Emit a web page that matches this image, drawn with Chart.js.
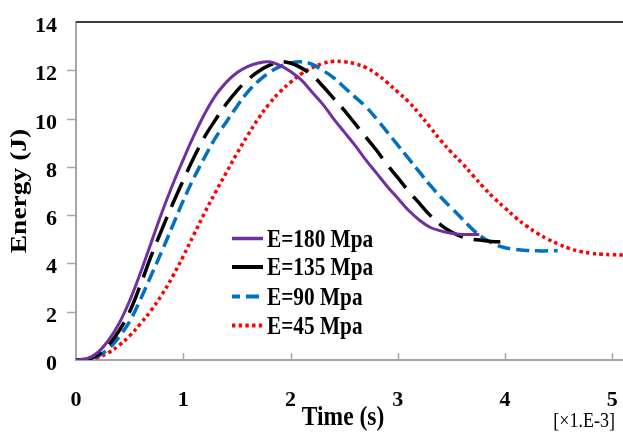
<!DOCTYPE html>
<html>
<head>
<meta charset="utf-8">
<script src="https://cdn.jsdelivr.net/npm/chart.js@4/dist/chart.umd.min.js"></script>
<style>
  html, body { margin: 0; padding: 0; background: #fff; }
  #wrap { width: 623px; height: 432px; }
</style>
</head>
<body>
<div id="wrap"><canvas id="c" width="623" height="432"></canvas></div>
<script>
// Energy vs. time for four elastic moduli (time in units of 1e-3 s)
const seriesLabels = ['E=180 Mpa', 'E=135 Mpa', 'E=90 Mpa', 'E=45 Mpa'];

const time180 = [0,0.1,0.2,0.3,0.4,0.5,0.6,0.7,0.8,0.9,1.0,1.1,1.2,1.3,1.4,1.5,1.6,1.7,1.8,1.9,
                 2.0,2.1,2.2,2.3,2.4,2.5,2.6,2.7,2.8,2.9,3.0,3.1,3.2,3.3,3.4,3.5,3.6,3.76];
const energy180 = [0,0.05,0.3,0.8,1.5,2.45,3.6,4.85,6.1,7.25,8.3,9.3,10.2,10.95,11.5,11.9,12.15,12.3,12.35,12.2,
                   11.95,11.6,11.1,10.6,10.0,9.45,8.9,8.3,7.75,7.2,6.7,6.2,5.8,5.5,5.35,5.25,5.2,5.2];

const time135 = [0,0.1,0.2,0.3,0.4,0.5,0.6,0.7,0.8,0.9,1.0,1.1,1.2,1.3,1.4,1.5,1.6,1.7,1.8,1.9,
                 2.0,2.1,2.2,2.3,2.4,2.5,2.6,2.7,2.8,2.9,3.0,3.1,3.2,3.3,3.4,3.5,3.6,3.7,3.8,3.9,4.0];
const energy135 = [0,0.03,0.2,0.6,1.2,2.0,3.1,4.3,5.4,6.45,7.45,8.4,9.25,9.95,10.6,11.15,11.6,11.95,12.2,12.35,
                   12.3,12.1,11.8,11.35,10.85,10.35,9.8,9.25,8.7,8.1,7.55,7.0,6.5,6.0,5.6,5.3,5.1,5.0,4.95,4.9,4.9];

const time90 = [0,0.1,0.2,0.3,0.4,0.5,0.6,0.7,0.8,0.9,1.0,1.1,1.2,1.3,1.4,1.5,1.6,1.7,1.8,1.9,
                2.0,2.1,2.2,2.3,2.4,2.5,2.6,2.7,2.8,2.9,3.0,3.1,3.2,3.3,3.4,3.5,3.6,3.7,3.8,3.9,
                4.0,4.1,4.2,4.3,4.4,4.49];
const energy90 = [0,0.02,0.15,0.45,0.95,1.6,2.5,3.5,4.5,5.55,6.6,7.55,8.4,9.2,9.85,10.5,11.1,11.55,11.9,12.15,
                  12.3,12.35,12.25,12.0,11.7,11.3,10.9,10.5,10.0,9.45,8.9,8.35,7.8,7.25,6.75,6.3,5.85,5.4,5.05,4.8,
                  4.65,4.58,4.54,4.52,4.52,4.52];

const time45 = [0,0.1,0.2,0.3,0.4,0.5,0.6,0.7,0.8,0.9,1.0,1.1,1.2,1.3,1.4,1.5,1.6,1.7,1.8,1.9,
                2.0,2.1,2.2,2.3,2.4,2.5,2.6,2.7,2.8,2.9,3.0,3.1,3.2,3.3,3.4,3.5,3.6,3.7,3.8,3.9,
                4.0,4.1,4.2,4.3,4.4,4.5,4.6,4.7,4.8,4.9,5.0,5.1];
const energy45 = [0,0.02,0.1,0.3,0.6,1.0,1.5,2.05,2.7,3.45,4.3,5.2,6.1,6.95,7.75,8.55,9.3,10.0,10.6,11.1,
                  11.5,11.85,12.1,12.28,12.37,12.35,12.27,12.12,11.85,11.5,11.1,10.7,10.2,9.65,9.1,8.6,8.15,7.65,7.15,6.7,
                  6.3,5.9,5.55,5.25,5.0,4.8,4.62,4.5,4.42,4.38,4.36,4.35];

const xTickValues = [0, 1, 2, 3, 4, 5];
const yTickValues = [0, 2, 4, 6, 8, 10, 12, 14];
const xTitle = 'Time (s)';
const xUnitNote = '[×1.E-3]';
const yTitle = 'Energy (J)';

const SERIF = '"Liberation Serif", "Times New Roman", serif';
const TEXT_STRETCH = 1.17;   // title and legend glyphs are a little taller than wide
const AXIS_GREY = '#A6A6A6';

function pairs(xs, ys) { return xs.map((x, i) => ({ x, y: ys[i] })); }

const styles = [
  { color: '#7030A0', width: 3,   dash: [],          legendOffset: 0 },
  { color: '#000000', width: 3.5, dash: [27, 11],    legendOffset: 0 },
  { color: '#0070C0', width: 3.5, dash: [13, 6],     legendOffset: 5 },
  { color: '#FF0000', width: 3.5, dash: [3.4, 3.3],  legendOffset: 0 }
];
const seriesData = [pairs(time180, energy180), pairs(time135, energy135),
                    pairs(time90, energy90), pairs(time45, energy45)];

function drawText(ctx, str, x, y, font, align, baseline, angle, stretch) {
  ctx.save();
  ctx.translate(x, y);
  ctx.scale(1, stretch === undefined ? TEXT_STRETCH : stretch);
  if (angle) ctx.rotate(angle);
  ctx.font = font;
  ctx.fillStyle = '#000';
  ctx.textAlign = align;
  ctx.textBaseline = baseline;
  ctx.fillText(str, 0, 0);
  ctx.restore();
}

const TICK_FONT = 'bold 22px ' + SERIF;

// Frame, tick marks, tick labels, titles and the in-plot legend
const decorations = {
  id: 'decorations',
  beforeDatasetsDraw(chart) {
    const { ctx, chartArea: a, scales: { x, y } } = chart;
    ctx.save();
    ctx.strokeStyle = '#3F3F3F';
    ctx.lineWidth = 2;
    ctx.beginPath(); ctx.moveTo(a.left, a.top); ctx.lineTo(a.right, a.top); ctx.stroke();
    ctx.strokeStyle = AXIS_GREY;
    ctx.lineWidth = 1.5;
    xTickValues.slice(1).forEach(v => {
      const px = Math.round(x.getPixelForValue(v)) + 0.5;
      ctx.beginPath(); ctx.moveTo(px, a.bottom); ctx.lineTo(px, a.bottom - 7); ctx.stroke();
    });
    yTickValues.slice(1, -1).forEach(v => {
      const py = Math.round(y.getPixelForValue(v)) + 0.5;
      ctx.beginPath(); ctx.moveTo(a.left, py); ctx.lineTo(a.left - 9, py); ctx.stroke();
    });
    ctx.restore();
    // tick labels
    xTickValues.forEach(v => {
      drawText(ctx, String(v), x.getPixelForValue(v), a.bottom + 46, TICK_FONT, 'center', 'alphabetic', 0, 1);
    });
    yTickValues.forEach(v => {
      drawText(ctx, String(v), a.left - 19, y.getPixelForValue(v) + 10, TICK_FONT, 'right', 'alphabetic', 0, 1);
    });
  },
  afterDraw(chart) {
    const { ctx } = chart;
    // axis titles
    drawText(ctx, yTitle, 20, 191, 'bold 23.5px ' + SERIF, 'center', 'middle', -Math.PI / 2);
    drawText(ctx, xTitle, 343, 425, 'bold 23.5px ' + SERIF, 'center', 'alphabetic');
    drawText(ctx, xUnitNote, 615, 427, '18px ' + SERIF, 'right', 'alphabetic');
    // legend
    const lx = 232, sampleLen = 31, textX = 267, rowY = [238.5, 267, 296.5, 325.5];
    chart.data.datasets.forEach((ds, i) => {
      const st = styles[i];
      ctx.save();
      ctx.strokeStyle = st.color;
      ctx.lineWidth = st.width + 0.5;
      ctx.setLineDash(i === 1 ? [] : st.dash);
      ctx.lineDashOffset = st.legendOffset;
      ctx.beginPath(); ctx.moveTo(lx, rowY[i]); ctx.lineTo(lx + sampleLen, rowY[i]); ctx.stroke();
      ctx.restore();
      drawText(ctx, ds.label, textX, rowY[i] + 8, 'bold 21.3px ' + SERIF, 'left', 'alphabetic');
    });
  }
};

new Chart(document.getElementById('c'), {
  type: 'line',
  data: {
    datasets: seriesData.map((d, i) => ({
      label: seriesLabels[i],
      data: d,
      borderColor: styles[i].color,
      backgroundColor: styles[i].color,
      borderWidth: styles[i].width,
      borderDash: styles[i].dash,
      borderCapStyle: 'butt',
      pointRadius: 0,
      fill: false,
      tension: 0.4
    }))
  },
  options: {
    responsive: false,
    animation: false,
    devicePixelRatio: 1,
    layout: { padding: { top: 22, right: 0, bottom: 0, left: 0 } },
    plugins: { legend: { display: false }, tooltip: { enabled: false } },
    scales: {
      x: {
        type: 'linear',
        min: 0,
        max: 5.1,
        afterFit: s => { s.height = 72; },
        afterBuildTicks: s => { s.ticks = xTickValues.map(v => ({ value: v })); },
        grid: { display: false },
        border: { display: true, color: AXIS_GREY, width: 2 },
        ticks: { display: false }
      },
      y: {
        min: 0,
        max: 14,
        afterFit: s => { s.width = 76; },
        afterBuildTicks: s => { s.ticks = yTickValues.map(v => ({ value: v })); },
        grid: { display: false },
        border: { display: true, color: AXIS_GREY, width: 2 },
        ticks: { display: false }
      }
    }
  },
  plugins: [decorations]
});
</script>
</body>
</html>
